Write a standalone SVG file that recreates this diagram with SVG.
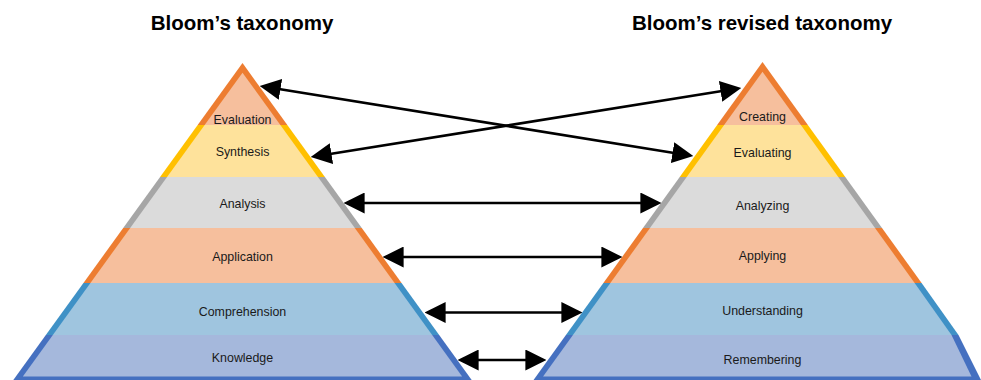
<svg xmlns="http://www.w3.org/2000/svg" width="981" height="380" viewBox="0 0 981 380">
<style>
.t{font-family:"Liberation Sans",Arial,sans-serif;font-size:12.4px;fill:#1a1a1a;text-anchor:middle}
.h{font-family:"Liberation Sans",Arial,sans-serif;font-size:20.5px;font-weight:bold;fill:#000;text-anchor:middle}
.so{fill:#ED7D31}.fo{fill:#F6BF9D}
.sy{fill:#FFC000}.fy{fill:#FEE29B}
.sg{fill:#A6A6A6}.fg{fill:#DBDBDB}
.sb{fill:#3F91C6}.fb{fill:#9FC5DF}
.sd{fill:#4570C0}.fd{fill:#A5B8DC}
.a{stroke:#000;stroke-width:2.6;fill:none;marker-start:url(#ah);marker-end:url(#ah)}
</style>
<defs>
<marker id="ah" markerUnits="userSpaceOnUse" markerWidth="21" markerHeight="21" viewBox="0 0 20 20" refX="12" refY="10" orient="auto-start-reverse">
<path d="M0,0 L20,10 L0,20 z" fill="#000"/>
</marker>
</defs>
<rect width="981" height="380" fill="#fff"/>
<text class="h" x="242" y="30">Bloom’s taxonomy</text>
<text class="h" x="762" y="30">Bloom’s revised taxonomy</text>

<g id="left-evaluation">
<polygon class="so" points="242.5,63 287.33,125 197.67,125"/>
<polygon class="fo" points="242.5,72.7 280.33,125 204.67,125"/>
<text class="t" x="242.5" y="124">Evaluation</text>
</g>
<g id="left-synthesis">
<polygon class="sy" points="197.67,125 287.33,125 324.92,177 160.08,177"/>
<polygon class="fy" points="204.67,125 280.33,125 317.92,177 167.08,177"/>
<text class="t" x="242.5" y="156">Synthesis</text>
</g>
<g id="left-analysis">
<polygon class="sg" points="160.08,177 324.92,177 361.8,228 123.2,228"/>
<polygon class="fg" points="167.08,177 317.92,177 354.8,228 130.2,228"/>
<text class="t" x="242.5" y="208">Analysis</text>
</g>
<g id="left-application">
<polygon class="so" points="123.2,228 361.8,228 401.56,283 83.44,283"/>
<polygon class="fo" points="130.2,228 354.8,228 394.56,283 90.44,283"/>
<text class="t" x="242.5" y="261">Application</text>
</g>
<g id="left-comprehension">
<polygon class="sb" points="83.44,283 401.56,283 439.16,335 45.84,335"/>
<polygon class="fb" points="90.44,283 394.56,283 432.16,335 52.84,335"/>
<text class="t" x="242.5" y="316">Comprehension</text>
</g>
<g id="left-knowledge">
<polygon class="sd" points="45.84,335 439.16,335 471.69,380 13.31,380"/>
<polygon class="fd" points="52.84,335 432.16,335 462.15,376.5 22.85,376.5"/>
<text class="t" x="242.5" y="362">Knowledge</text>
</g>

<g id="right-creating">
<polygon class="so" points="762.5,62 807.86,125 717.14,125"/>
<polygon class="fo" points="762.5,71.7 800.86,125 724.14,125"/>
<text class="t" x="762.5" y="121">Creating</text>
</g>
<g id="right-evaluating">
<polygon class="sy" points="717.14,125 807.86,125 845.3,177 679.7,177"/>
<polygon class="fy" points="724.14,125 800.86,125 838.3,177 686.7,177"/>
<text class="t" x="762.5" y="156.5">Evaluating</text>
</g>
<g id="right-analyzing">
<polygon class="sg" points="679.7,177 845.3,177 882.02,228 642.98,228"/>
<polygon class="fg" points="686.7,177 838.3,177 875.02,228 649.98,228"/>
<text class="t" x="762.5" y="210">Analyzing</text>
</g>
<g id="right-applying">
<polygon class="so" points="642.98,228 882.02,228 921.62,283 603.38,283"/>
<polygon class="fo" points="649.98,228 875.02,228 914.62,283 610.38,283"/>
<text class="t" x="762.5" y="260">Applying</text>
</g>
<g id="right-understanding">
<polygon class="sb" points="603.38,283 921.62,283 958.5,335 565.94,335"/>
<polygon class="fb" points="610.38,283 914.62,283 951.5,335 572.94,335"/>
<text class="t" x="762.5" y="315">Understanding</text>
</g>
<g id="right-remembering">
<polygon class="sd" points="565.94,335 958.5,335 981,380 533.54,380"/>
<polygon class="fd" points="572.94,335 951.5,335 971.5,376.5 543.06,376.5"/>
<text class="t" x="762.5" y="364">Remembering</text>
</g>

<g id="connectors">
<line class="a" x1="268" y1="87.3" x2="685" y2="154.7"/>
<line class="a" x1="733" y1="89.3" x2="319" y2="155.7"/>
<line class="a" x1="352" y1="203" x2="653" y2="203"/>
<line class="a" x1="391" y1="257" x2="614" y2="257"/>
<line class="a" x1="433" y1="312.5" x2="574" y2="312.5"/>
<line class="a" x1="466" y1="360" x2="538" y2="360"/>
</g>
</svg>
